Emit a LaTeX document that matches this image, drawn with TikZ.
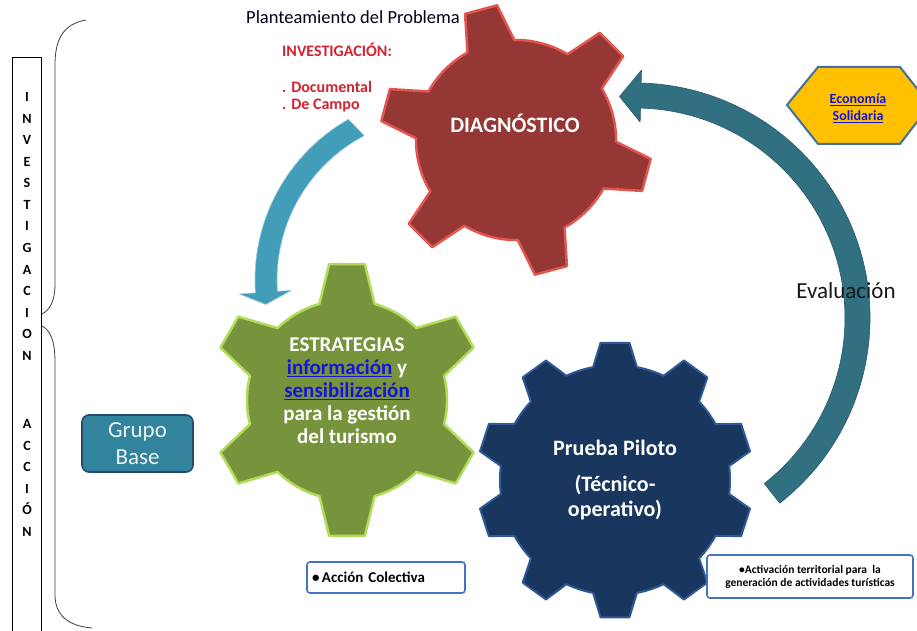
\documentclass[tikz,border=0pt]{standalone}
\usepackage{fontspec}
\setmainfont{Carlito}
\usetikzlibrary{calc}
\definecolor{gearred}{RGB}{149,55,53}
\definecolor{gearredline}{RGB}{226,86,80}
\definecolor{geargreen}{RGB}{119,147,60}
\definecolor{geargreenline}{RGB}{176,220,90}
\definecolor{gearblue}{RGB}{24,54,94}
\definecolor{gearblueline}{RGB}{47,89,150}
\definecolor{arrowteal}{RGB}{66,158,184}
\definecolor{arcteal}{RGB}{49,112,128}
\definecolor{grupofill}{RGB}{49,132,155}
\definecolor{grupoline}{RGB}{37,74,110}
\definecolor{grupotext}{RGB}{235,242,242}
\definecolor{hexfill}{RGB}{255,192,0}
\definecolor{hexline}{RGB}{65,113,156}
\definecolor{linkblue}{RGB}{20,20,220}
\definecolor{invred}{RGB}{210,35,50}
\definecolor{boxline}{RGB}{68,114,196}
\newcommand{\drawgear}[9]{%
  \begin{scope}[shift={(#2,#3)}]
  \pgfmathsetmacro{\gstep}{360/#6}
  \pgfmathtruncatemacro{\glast}{#6-1}
  \draw[#1] ({#7-#9}:#5) \foreach \k in {0,...,\glast}{
     -- ({#7+\k*\gstep-#8}:#4) -- ({#7+\k*\gstep+#8}:#4) -- ({#7+\k*\gstep+#9}:#5)
     arc[start angle={#7+\k*\gstep+#9}, end angle={#7+(\k+1)*\gstep-#9}, radius=#5]
  } -- cycle;
  \end{scope}}
\tikzset{
  redgear/.style={fill=gearred, draw=gearredline, line width=2.5pt, line join=round},
  greengear/.style={fill=geargreen, draw=geargreenline, line width=2.5pt, line join=round},
  bluegear/.style={fill=gearblue, draw=gearblueline, line width=2pt, line join=round},
  geartext/.style={text=white, align=center, inner sep=0pt},
  vletter/.style={font=\bfseries\fontsize{14}{14}\selectfont, text height=9pt, text depth=0pt, inner sep=0pt},
  redtext/.style={text=invred, font=\bfseries\fontsize{16}{16}\selectfont, anchor=west, inner sep=0pt},
  whitebox/.style={draw=boxline, line width=1.6pt, rounded corners=3pt, fill=white},
  bracestyle/.style={draw=black!75, line width=0.8pt},
}
\begin{document}
\begin{tikzpicture}[x=1pt, y=1pt]
\useasboundingbox (0,0) rectangle (917,630);
\fill[white] (0,0) rectangle (917,630);

% gears
\drawgear{greengear}{347}{230}{137}{100}{6}{90}{7.5}{16}
\drawgear{redgear}{516}{490}{136}{100}{6}{105}{7}{14}
\drawgear{bluegear}{615}{150}{138}{115}{10}{90}{6}{11}

% left curved arrow
\begin{scope}[shift={(440,350)}]
\fill[arrowteal, draw=arrowteal!55!white, line width=0.6pt, line join=round]
  (119.7:185) arc[start angle=119.7, end angle=184, radius=185]
  -- (184:201) -- (188:176) -- (184:149) -- (184:163)
  arc[start angle=184, end angle=117.7, radius=163] -- cycle;
\end{scope}

% right big arc arrow
\begin{scope}[shift={(635,312)}]
\fill[arcteal, draw=arcteal!80!black, line width=0.6pt, line join=round]
  (-52:210) -- (-52:235) arc[start angle=-52, end angle=88.5, radius=235]
  -- (88.5:248) -- (94:222) -- (88.5:196) -- (88.5:210)
  arc[start angle=88.5, end angle=-52, radius=210] -- cycle;
\end{scope}

% left column
\draw[black, line width=1pt] (12.5,-5) rectangle (41.5,572);
\foreach \l [count=\i] in {I,N,V,E,S,T,I,G,A,C,I,O,N}
  \node[vletter] (inv\i) at (27,{630-97-21.58*(\i-1)}) {\l};
\foreach \l [count=\i] in {A,C,C,I,Ó,N}
  \node[vletter] (acc\i) at (27,{630-424-21.6*(\i-1)}) {\l};

% braces
\draw[bracestyle] (86,610) .. controls (64,606) and (55,592) .. (55,565)
  -- (55,345) .. controls (55,330) and (50,320) .. (42,316);
\draw[bracestyle] (42,304) .. controls (50,300) and (55,290) .. (55,268)
  -- (55,35) .. controls (55,15) and (68,4) .. (92,2);

% top texts
\node[font=\fontsize{18.5}{18.5}\selectfont, text=black!90!blue, inner sep=0pt] (plant) at (353,613) {Planteamiento del Problema};
\node[redtext] (invest) at (282,580) {INVESTIGACIÓN:};
\node[redtext] (docum) at (282,543) {. Documental};
\node[redtext] (campo) at (282,524) {. De Campo};

% gear texts
\node[geartext, font=\bfseries\fontsize{22}{24}\selectfont] (diag) at (515,507) {DIAGNÓSTICO};
\node[geartext, font=\bfseries\fontsize{21}{23}\selectfont] (estr) at (347,239.5)
  {ESTRATEGIAS\\\textcolor{linkblue}{\underline{información}} y\\\textcolor{linkblue}{\underline{sensibilización}}\\para la gestión\\del turismo};
\node[geartext, font=\bfseries\fontsize{22}{24}\selectfont] (prueba) at (615,182) {Prueba Piloto};
\node[geartext, font=\bfseries\fontsize{22}{25}\selectfont] (tecnico) at (615,132.5) {(Técnico-\\operativo)};

% evaluacion
\node[font=\fontsize{23}{23}\selectfont, text=black!90, inner sep=0pt] (eval) at (846,339) {Evaluación};

% hexagon
\draw[fill=hexfill, draw=hexline, line width=2pt, line join=round]
  (787,525) -- (818,563) -- (900,563) -- (930,525) -- (900,486) -- (818,486) -- cycle;
\node[align=center, text=linkblue, font=\bfseries\fontsize{14}{17}\selectfont, inner sep=0pt] (econ) at (858,522)
  {\underline{Economía}\\\underline{Solidaria}};

% grupo base
\node[draw=grupoline, fill=grupofill, line width=1.6pt, rounded corners=7pt,
      minimum width=111pt, minimum height=57pt, align=center, text=grupotext,
      font=\fontsize{23}{27}\selectfont, inner sep=0pt] (grupo) at (137.5,186.5) {Grupo\\Base};

% bottom boxes
\node[whitebox, minimum width=158pt, minimum height=31pt, text width=148pt, inner sep=5pt,
      align=left, font=\bfseries\fontsize{15}{15}\selectfont] (accion) at (386,52.5) {•\,Acción Colectiva};
\node[whitebox, minimum width=206pt, minimum height=43pt, align=center, inner sep=2pt,
      font=\bfseries\fontsize{11.5}{13}\selectfont] (activ) at (810,53.5)
  {•Activación territorial para\ \ la\\generación de actividades turísticas};
\end{tikzpicture}
\end{document}
